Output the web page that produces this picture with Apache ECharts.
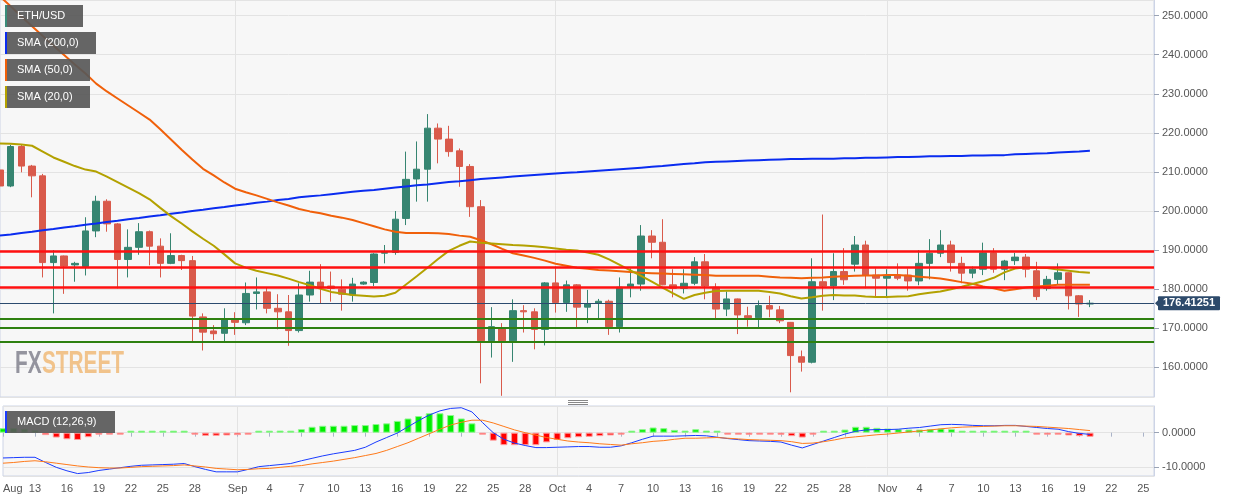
<!DOCTYPE html>
<html>
<head>
<meta charset="utf-8">
<script src="https://cdn.jsdelivr.net/npm/echarts/dist/echarts.min.js"></script>
<style>
html,body{margin:0;padding:0;background:#ffffff;}
#chart{width:1244px;height:501px;}
</style>
</head>
<body>
<div id="chart"></div>
<script>
// ---------- DATA ----------
const firstDay = '2019-08-10';
const lastAxisDay = '2019-11-26';

const opens = [210.5,206.4,216.5,211.5,209.0,186.8,188.5,186.2,185.8,194.9,
 202.5,196.7,187.6,190.7,194.7,191.0,186.6,188.6,187.3,172.9,
 169.3,168.7,172.3,171.4,178.9,179.3,175.1,174.2,169.4,178.5,
 181.8,180.8,180.0,178.5,181.3,181.7,189.2,189.4,198.1,208.2,
 210.7,221.2,218.4,215.4,211.4,201.1,166.8,170.1,166.8,174.5,
 174.2,169.7,181.6,176.6,181.1,175.4,176.4,176.9,170.4,180.6,
 181.3,193.6,192.0,181.1,180.2,181.5,187.0,180.5,174.9,177.5,
 173.2,172.7,175.8,174.7,171.5,162.7,161.3,181.9,180.8,184.5,
 186.4,191.3,183.6,182.8,183.6,183.6,182.1,186.6,189.2,191.3,
 186.6,184.1,185.1,189.3,185.1,187.3,188.2,184.7,180.2,182.5,
 184.2,178.3,176.2];
const closes = [206.4,216.5,211.5,209.0,186.8,188.5,185.9,186.6,194.9,202.5,
 196.7,187.6,190.7,194.7,191.0,186.6,188.6,187.3,173.1,169.0,
 168.6,172.4,171.5,178.9,179.3,175.1,174.2,169.4,178.5,181.8,
 180.5,180.2,178.7,181.3,181.8,189.0,189.4,197.9,208.1,210.7,
 221.2,218.4,215.2,211.4,201.1,166.8,170.4,166.8,174.5,174.2,
 169.7,181.6,176.6,181.1,175.4,176.2,176.9,170.4,180.5,181.3,
 193.6,192.0,181.1,180.2,181.5,187.0,180.8,174.9,177.5,173.4,
 172.7,175.8,174.9,171.9,163.0,161.3,181.9,180.8,184.5,182.4,
 191.3,183.6,182.8,183.4,182.8,182.1,186.6,189.2,191.3,186.8,
 184.1,185.1,189.3,185.1,187.2,188.2,185.1,178.1,182.5,184.2,
 178.3,176.2,176.41];
const highs = [214.8,216.9,216.9,211.8,209.5,190.0,188.6,187.0,198.4,203.9,
 203.0,196.9,195.3,196.9,195.0,193.0,194.3,188.8,188.5,173.8,
 170.8,175.1,174.1,181.7,183.0,180.4,178.7,178.5,181.5,184.7,
 186.4,184.5,182.5,182.9,182.0,189.2,191.3,200.0,215.2,217.8,
 224.8,222.4,221.8,216.0,212.0,202.8,175.4,171.3,177.4,175.9,
 175.1,181.8,185.8,182.2,181.3,179.8,177.5,177.3,183.0,185.3,
 196.4,195.1,197.9,185.1,185.1,188.2,189.0,181.5,179.4,177.6,
 175.5,177.1,178.3,175.7,171.6,164.3,187.9,199.1,189.2,190.5,
 193.6,192.4,185.3,185.1,186.6,185.3,190.0,192.8,195.1,192.4,
 188.3,185.8,191.9,190.5,187.5,189.3,189.0,187.0,183.4,186.6,
 184.3,178.5,177.2];
const lows = [201.1,206.1,209.9,203.5,183.0,173.8,178.8,181.9,183.5,193.3,
 194.7,180.2,183.0,188.8,186.1,183.0,186.4,184.9,166.3,164.3,
 167.0,166.3,168.3,170.8,174.8,173.8,169.7,165.5,168.9,176.8,
 176.4,176.8,174.5,176.8,181.1,180.8,186.6,188.8,196.4,202.4,
 202.4,212.2,213.9,206.2,198.5,155.9,162.5,152.7,161.4,168.9,
 164.6,165.6,174.0,174.2,170.2,171.3,172.5,168.3,168.9,177.9,
 179.6,187.9,181.0,177.9,178.9,181.0,177.4,172.1,173.1,168.5,
 170.4,169.8,172.8,171.3,153.6,158.9,161.0,174.5,177.2,181.1,
 184.5,180.2,178.1,177.7,182.3,179.6,181.0,182.5,188.2,184.5,
 181.5,182.8,183.6,184.2,182.3,186.2,183.0,177.2,179.6,181.3,
 174.8,172.9,175.4];

const sma200 = [193.7,194.0,194.4,194.7,195.1,195.4,195.8,196.1,196.5,196.8,
 197.2,197.5,197.9,198.2,198.6,198.9,199.3,199.6,200.0,200.3,
 200.7,201.0,201.4,201.7,202.1,202.4,202.8,203.1,203.5,203.8,
 204.0,204.3,204.6,204.9,205.2,205.4,205.7,206.0,206.3,206.6,
 206.8,207.1,207.4,207.6,207.9,208.2,208.4,208.6,208.8,209.0,
 209.2,209.4,209.6,209.8,209.9,210.1,210.3,210.5,210.7,210.9,
 211.1,211.3,211.5,211.8,212.0,212.2,212.5,212.6,212.7,212.8,
 212.9,213.0,213.1,213.2,213.3,213.3,213.4,213.4,213.4,213.5,
 213.5,213.6,213.6,213.7,213.8,213.8,213.9,214.0,214.0,214.1,
 214.1,214.2,214.2,214.3,214.3,214.5,214.6,214.7,214.8,215.0,
 215.1,215.2,215.4];
const sma50 = [254.9,252.4,249.8,247.3,244.8,242.3,239.9,237.5,235.2,232.6,
 230.6,228.8,227.0,225.2,223.4,220.9,218.3,215.7,213.2,210.8,
 209.1,207.3,205.7,204.8,204.0,203.1,202.2,201.4,200.5,199.9,
 199.4,198.8,198.3,197.7,196.9,196.1,195.3,194.7,194.4,194.4,
 194.4,194.3,194.1,193.7,193.4,192.5,191.5,190.3,189.2,188.6,
 188.0,187.3,186.5,186.0,185.5,185.2,184.9,184.8,184.6,184.4,
 184.2,184.1,184.0,183.9,183.8,183.7,183.6,183.4,183.4,183.4,
 183.4,183.4,183.2,183.0,182.9,182.8,182.9,183.0,183.2,183.3,
 183.4,183.5,183.5,183.6,183.6,183.4,183.2,183.0,182.7,182.3,
 181.8,181.4,180.7,180.2,179.6,180.0,180.4,180.7,180.9,181.1,
 181.1,181.1,181.1];
const sma20 = [217.3,217.2,217.0,216.7,215.2,213.7,212.6,211.5,210.6,210.1,
 208.8,207.4,206.0,204.6,203.0,200.8,198.7,196.8,194.8,192.9,
 191.1,188.9,186.6,185.5,184.7,184.1,183.5,182.7,181.8,181.0,
 180.1,179.3,178.9,178.5,178.3,178.1,178.3,179.1,181.2,183.3,
 185.5,187.7,189.8,191.1,192.2,191.9,191.7,191.5,191.3,191.2,
 191.0,190.7,190.4,190.1,189.9,189.4,188.8,187.6,186.2,184.8,
 183.4,181.9,180.4,178.9,177.5,178.5,179.1,179.5,179.6,179.6,
 179.6,179.6,179.3,178.9,178.2,177.6,177.9,178.3,178.5,178.4,
 178.4,178.1,178.0,178.0,178.1,178.2,178.7,179.1,179.4,180.0,
 180.6,181.3,182.0,182.9,184.3,185.3,185.6,185.5,185.4,185.0,
 184.7,184.4,184.2];

const macdLine = [-7.3,-7.2,-7.1,-7.1,-8.6,-10.0,-11.0,-11.8,-11.5,-10.9,
 -10.5,-10.1,-9.7,-9.4,-9.3,-9.2,-9.1,-8.9,-9.8,-10.6,
 -11.3,-11.3,-11.3,-10.6,-9.8,-9.5,-9.2,-8.9,-8.1,-7.4,
 -6.7,-6.1,-5.6,-5.1,-4.2,-2.7,-1.4,-0.1,1.7,3.5,
 5.1,6.3,7.0,7.2,6.0,2.9,0.0,-1.9,-3.0,-3.7,
 -4.3,-4.3,-4.2,-4.1,-4.0,-4.0,-4.2,-4.2,-3.8,-2.9,
 -1.9,-1.0,-1.0,-1.0,-0.9,-0.8,-0.9,-1.3,-1.7,-2.0,
 -2.3,-2.4,-2.5,-2.7,-3.6,-4.4,-3.4,-2.4,-1.4,-0.4,
 0.4,0.8,0.9,0.9,1.0,1.3,1.5,1.9,2.3,2.4,
 2.3,2.1,2.0,2.0,2.1,2.1,1.8,1.5,1.2,1.0,
 0.3,-0.2,-0.5];
const signalLine = [-8.8,-8.6,-8.3,-8.1,-8.4,-8.8,-9.2,-9.6,-9.9,-10.1,
 -10.2,-10.2,-10.0,-9.8,-9.7,-9.6,-9.5,-9.3,-9.6,-9.9,
 -10.3,-10.5,-10.7,-10.6,-10.4,-10.3,-10.0,-9.7,-9.5,-9.0,
 -8.6,-8.2,-7.7,-7.2,-6.6,-6.0,-5.1,-4.0,-2.9,-1.6,
 -0.3,1.0,2.2,3.0,3.6,3.6,2.8,1.8,0.8,0.0,
 -0.7,-1.4,-1.9,-2.4,-2.7,-2.9,-3.2,-3.4,-3.6,-3.2,
 -2.9,-2.5,-2.3,-1.9,-1.6,-1.6,-1.5,-1.4,-1.6,-1.8,
 -2.0,-2.1,-2.2,-2.3,-2.6,-3.1,-3.0,-2.6,-2.1,-1.5,
 -1.2,-0.9,-0.6,-0.4,-0.1,0.2,0.5,0.8,1.1,1.4,
 1.6,1.7,1.8,1.9,2.0,2.0,1.9,1.8,1.6,1.4,
 1.2,0.9,0.6];
const macdHist = [1.3,1.3,1.1,0.7,-0.7,-1.4,-1.9,-2.1,-1.3,-0.5,
 -0.2,-0.1,0.05,0.4,0.4,0.4,0.4,0.4,-0.2,-0.9,
 -0.9,-0.8,-0.7,-0.1,0.3,0.5,0.6,0.5,1.0,1.7,
 2.0,2.0,2.0,2.2,2.2,2.5,2.7,3.4,4.1,4.8,
 5.6,5.6,5.1,4.1,2.7,-0.5,-2.3,-3.6,-3.6,-3.6,
 -3.6,-2.8,-2.1,-1.6,-1.3,-1.2,-1.0,-0.8,-0.3,0.2,
 1.0,1.5,1.3,0.8,0.6,1.0,0.6,0.2,-0.05,-0.3,
 -0.6,-0.5,-0.5,-0.6,-1.0,-1.4,-0.3,0.2,0.5,0.9,
 1.7,1.7,1.4,1.2,1.0,0.9,0.9,1.0,1.2,1.0,
 0.5,0.4,0.4,0.2,0.2,0.2,0.05,-0.5,-0.5,-0.5,
 -0.8,-1.0,-1.2];

const resistanceLevels = [189.6, 185.6, 180.6];
const supportLevels = [172.3, 170.1, 166.5];
const lastPrice = 176.41251;

const xTickLabels = {
 '2019-08-10':'Aug','2019-08-13':'13','2019-08-16':'16','2019-08-19':'19','2019-08-22':'22','2019-08-25':'25','2019-08-28':'28',
 '2019-09-01':'Sep','2019-09-04':'4','2019-09-07':'7','2019-09-10':'10','2019-09-13':'13','2019-09-16':'16','2019-09-19':'19','2019-09-22':'22','2019-09-25':'25','2019-09-28':'28',
 '2019-10-01':'Oct','2019-10-04':'4','2019-10-07':'7','2019-10-10':'10','2019-10-13':'13','2019-10-16':'16','2019-10-19':'19','2019-10-22':'22','2019-10-25':'25','2019-10-28':'28',
 '2019-11-01':'Nov','2019-11-04':'4','2019-11-07':'7','2019-11-10':'10','2019-11-13':'13','2019-11-16':'16','2019-11-19':'19','2019-11-22':'22','2019-11-25':'25'
};
const monthStarts = ['2019-09-01','2019-10-01','2019-11-01'];

const legendItems = [
 {label:'ETH/USD', color:'#3a8c79'},
 {label:'SMA (200,0)', color:'#0a2cf0'},
 {label:'SMA (50,0)', color:'#f0600a'},
 {label:'SMA (20,0)', color:'#b3a100'}
];

// ---------- BUILD ----------
const categories = [];
(function(){
  const d = new Date(firstDay + 'T00:00:00Z');
  const end = new Date(lastAxisDay + 'T00:00:00Z');
  while (d <= end) { categories.push(d.toISOString().slice(0,10)); d.setUTCDate(d.getUTCDate()+1); }
})();

const candleData = opens.map((o,i)=>[o, closes[i], lows[i], highs[i]]);
const histData = macdHist.map(v=>({value:v, itemStyle:{
  color: v >= 0 ? '#00ee00' : '#ff0000',
  borderColor: v >= 0 ? '#8cf78c' : '#ff9c9c'
}}));

const FONT = 'Liberation Sans, Arial, sans-serif';
const AXC = '#555555';
const GRIDC = '#e3e3e3';
const BORDERC = '#cdd4e6';

const markData = [];
resistanceLevels.forEach(v=>markData.push({yAxis:v, lineStyle:{color:'#ff1010', width:2.5, type:'solid'}, label:{show:false}}));
supportLevels.forEach(v=>markData.push({yAxis:v, lineStyle:{color:'#2e8010', width:2, type:'solid'}, label:{show:false}}));
markData.push({yAxis:lastPrice, lineStyle:{color:'#2b4a6e', width:1, type:'solid'},
  label:{show:true, position:'end', distance:4, formatter: String(lastPrice),
    backgroundColor:'#2d4a6b', color:'#ffffff', fontWeight:'bold', fontSize:11, fontFamily:FONT,
    padding:[2,5,1,5], borderRadius:1}});

const graphics = [];
legendItems.forEach((it, k)=>{
  const y = 5 + k*27;
  const w = [78, 91, 85, 85][k];
  graphics.push({type:'rect', z:100, shape:{x:5, y:y, width:w, height:22}, style:{fill:'rgba(88,88,88,0.92)'}});
  graphics.push({type:'rect', z:101, shape:{x:5, y:y, width:2, height:22}, style:{fill:it.color}});
  graphics.push({type:'text', z:101, x:17, y:y+11, style:{text:it.label, fill:'#ffffff', font:'11px ' + FONT, verticalAlign:'middle', align:'left'}});
});
// MACD legend
graphics.push({type:'rect', z:100, shape:{x:5, y:411, width:110, height:22}, style:{fill:'rgba(88,88,88,0.92)'}});
graphics.push({type:'rect', z:101, shape:{x:5, y:411, width:2, height:22}, style:{fill:'#1a3cff'}});
graphics.push({type:'text', z:101, x:17, y:422, style:{text:'MACD (12,26,9)', fill:'#ffffff', font:'11px ' + FONT, verticalAlign:'middle', align:'left'}});
// watermark
graphics.push({type:'text', z:50, x:15, y:364, scaleX:0.65, style:{text:'FX', fill:'rgba(130,130,142,0.85)', font:'bold 32px ' + FONT, verticalAlign:'middle', align:'left'}});
graphics.push({type:'text', z:50, x:42, y:364, scaleX:0.65, style:{text:'STREET', fill:'rgba(240,186,120,0.85)', font:'bold 32px ' + FONT, verticalAlign:'middle', align:'left'}});
// drag handle
[400.5, 402.5, 404.5].forEach(yy=>graphics.push({type:'line', z:100, shape:{x1:568, y1:yy, x2:588, y2:yy}, style:{stroke:'#888', lineWidth:1}}));

const option = {
  animation:false,
  backgroundColor:'#ffffff',
  textStyle:{fontFamily:FONT},
  grid:[
    {left:0, top:0, width:1154, height:397, show:true, backgroundColor:'#f7f7f7', borderColor:BORDERC, borderWidth:1},
    {left:0, top:406, width:1154, height:70, show:true, backgroundColor:'#f7f7f7', borderColor:BORDERC, borderWidth:1}
  ],
  xAxis:[
    {type:'category', gridIndex:0, data:categories, boundaryGap:false,
     axisLine:{show:false}, axisTick:{show:false}, axisLabel:{show:false},
     splitLine:{show:true, interval:(i,v)=>monthStarts.indexOf(v)>=0, lineStyle:{color:GRIDC}}},
    {type:'category', gridIndex:1, data:categories, boundaryGap:false,
     axisLine:{show:false},
     axisTick:{show:true, interval:(i,v)=>xTickLabels[v]!==undefined, length:4, lineStyle:{color:'#aab3c8'}},
     axisLabel:{show:true, interval:(i,v)=>xTickLabels[v]!==undefined, formatter:(v)=>xTickLabels[v]||'',
       color:AXC, fontSize:11, fontFamily:FONT, margin:7, alignMinLabel:'left', hideOverlap:false},
     splitLine:{show:true, interval:(i,v)=>monthStarts.indexOf(v)>=0, lineStyle:{color:GRIDC}}}
  ],
  yAxis:[
    {type:'value', gridIndex:0, position:'right', min:152.4, max:254, splitNumber:10,
     axisLine:{show:true, lineStyle:{color:BORDERC}},
     axisTick:{show:true, length:5, lineStyle:{color:'#9aa3b5'}},
     axisLabel:{color:AXC, fontSize:11, fontFamily:FONT, margin:8, formatter:(v)=>v.toFixed(4), showMinLabel:false, showMaxLabel:false},
     splitLine:{show:true, lineStyle:{color:GRIDC}}},
    {type:'value', gridIndex:1, position:'right', min:-12.5, max:7.7, splitNumber:2,
     axisLine:{show:true, lineStyle:{color:BORDERC}},
     axisTick:{show:true, length:5, lineStyle:{color:'#9aa3b5'}},
     axisLabel:{color:AXC, fontSize:11, fontFamily:FONT, margin:8, formatter:(v)=>v.toFixed(4), showMinLabel:false, showMaxLabel:false},
     splitLine:{show:true, lineStyle:{color:GRIDC}}}
  ],
  series:[
    {name:'ETH/USD', type:'candlestick', xAxisIndex:0, yAxisIndex:0, data:candleData, barWidth:7,
     itemStyle:{color:'#368571', color0:'#d95a4b', borderColor:'#368571', borderColor0:'#d95a4b', borderWidth:1},
     markLine:{silent:true, symbol:['none','none'], animation:false, data:markData}},
    {name:'SMA200', type:'line', xAxisIndex:0, yAxisIndex:0, data:sma200, showSymbol:false, symbol:'none',
     lineStyle:{color:'#0a2cf0', width:2}, z:3},
    {name:'SMA50', type:'line', xAxisIndex:0, yAxisIndex:0, data:sma50, showSymbol:false, symbol:'none',
     lineStyle:{color:'#f0600a', width:2}, z:3},
    {name:'SMA20', type:'line', xAxisIndex:0, yAxisIndex:0, data:sma20, showSymbol:false, symbol:'none',
     lineStyle:{color:'#b3a100', width:2}, z:3},
    {name:'Hist', type:'bar', xAxisIndex:1, yAxisIndex:1, data:histData, barWidth:7, barMinHeight:2, itemStyle:{borderWidth:1}},
    {name:'MACD', type:'line', xAxisIndex:1, yAxisIndex:1, data:macdLine, showSymbol:false, symbol:'none',
     lineStyle:{color:'#1a3cff', width:1}, z:4},
    {name:'Signal', type:'line', xAxisIndex:1, yAxisIndex:1, data:signalLine, showSymbol:false, symbol:'none',
     lineStyle:{color:'#ff7a1a', width:1}, z:4}
  ],
  graphic:graphics
};

const chart = echarts.init(document.getElementById('chart'), null, {renderer:'canvas'});
chart.setOption(option);
// small arrow for the last-price tag
const py = chart.convertToPixel({yAxisIndex:0}, lastPrice);
chart.setOption({graphic: graphics.concat([{type:'polygon', z:100, shape:{points:[[1155,py],[1159,py-4],[1159,py+4]]}, style:{fill:'#2d4a6b'}}])});
</script>
</body>
</html>
